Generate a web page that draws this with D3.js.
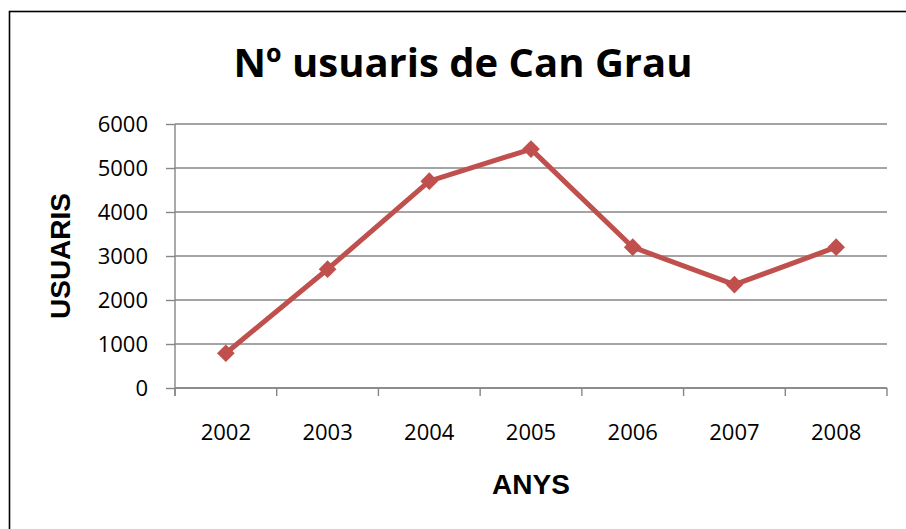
<!DOCTYPE html>
<html>
<head>
<meta charset="utf-8">
<script src="https://cdn.jsdelivr.net/npm/d3@7"></script>
<style>
	html, body { margin: 0; padding: 0; background: #fff; overflow: hidden; }
</style>
</head>
<body>
<script>
'use strict';

// chart data
const years = ["2002", "2003", "2004", "2005", "2006", "2007", "2008"];
const usuaris = [790, 2700, 4700, 5430, 3200, 2350, 3200];
const yTicks = [0, 1000, 2000, 3000, 4000, 5000, 6000];

const params = {
	width: 906,
	height: 529,
	left: 175,
	right: 887,
	top: 124,
	bottom: 388
};

const svg = d3.select("body")
	.append("svg")
	.attr("width", params.width)
	.attr("height", params.height);

// outer frame (runs off the right/bottom edge like the original)
svg.append("rect")
	.attr("x", 9.5)
	.attr("y", 11.5)
	.attr("width", 920)
	.attr("height", 540)
	.attr("fill", "#fff")
	.attr("stroke", "#000")
	.attr("stroke-width", 1.6);

const xScale = d3.scaleBand()
	.domain(years)
	.range([params.left, params.right])
	.padding(0);

const yScale = d3.scaleLinear()
	.domain([0, 6000])
	.range([params.bottom, params.top]);

const grey = "#868686";

// gridlines
svg.append("g")
	.selectAll("line")
	.data(yTicks)
	.join("line")
		.attr("x1", params.left)
		.attr("x2", params.right)
		.attr("y1", d => yScale(d))
		.attr("y2", d => yScale(d))
		.attr("stroke", grey)
		.attr("stroke-width", 1.4);

// y axis
const yAxis = svg.append("g")
	.attr("transform", `translate(${params.left},0)`)
	.call(d3.axisLeft(yScale).tickValues(yTicks).tickSize(9).tickPadding(18).tickFormat(d3.format("d")));
yAxis.select(".domain").attr("stroke", grey).attr("stroke-width", 1.4)
	.attr("d", `M0,${params.top}V${params.bottom + 8}`);
yAxis.selectAll(".tick line").attr("stroke", grey).attr("stroke-width", 1.4);
yAxis.selectAll(".tick text")
	.attr("font-family", "'Open Sans', sans-serif")
	.attr("font-size", 22)
	.attr("fill", "#000");

// x axis: ticks between categories
const xAxisG = svg.append("g")
	.attr("transform", `translate(0,${params.bottom})`);
xAxisG.append("line")
	.attr("x1", params.left).attr("x2", params.right)
	.attr("stroke", grey).attr("stroke-width", 1.4);
xAxisG.selectAll("line.tk")
	.data(years.concat(["end"]))
	.join("line")
		.attr("class", "tk")
		.attr("x1", d => d === "end" ? params.right : xScale(d))
		.attr("x2", d => d === "end" ? params.right : xScale(d))
		.attr("y1", 0).attr("y2", 8)
		.attr("stroke", grey).attr("stroke-width", 1.4);
xAxisG.selectAll("text")
	.data(years)
	.join("text")
		.attr("x", d => xScale(d) + xScale.bandwidth() / 2)
		.attr("y", 52)
		.attr("text-anchor", "middle")
		.attr("font-family", "'Open Sans', sans-serif")
		.attr("font-size", 22)
		.text(d => d);

// series line
const pts = years.map((y, i) => ({ year: y, value: usuaris[i] }));
const line = d3.line()
	.x(d => xScale(d.year) + xScale.bandwidth() / 2)
	.y(d => yScale(d.value));

svg.append("path")
	.datum(pts)
	.attr("d", line)
	.attr("fill", "none")
	.attr("stroke", "#C0504D")
	.attr("stroke-width", 5)
	.attr("stroke-linejoin", "round");

// diamond markers
svg.append("g")
	.selectAll("path")
	.data(pts)
	.join("path")
		.attr("d", d3.symbol().type(d3.symbolDiamond2).size(200))
		.attr("transform", d => `translate(${xScale(d.year) + xScale.bandwidth() / 2},${yScale(d.value)})`)
		.attr("fill", "#C0504D");

// titles
svg.append("text")
	.attr("x", 463)
	.attr("y", 77)
	.attr("text-anchor", "middle")
	.attr("font-family", "'Open Sans', sans-serif")
	.attr("font-weight", "bold")
	.attr("font-size", 40)
	.text("Nº usuaris de Can Grau");

svg.append("text")
	.attr("transform", "translate(70,256) rotate(-90)")
	.attr("text-anchor", "middle")
	.attr("font-family", "'Liberation Sans', Arial, sans-serif")
	.attr("font-weight", "bold")
	.attr("font-size", 28)
	.text("USUARIS");

svg.append("text")
	.attr("x", 531)
	.attr("y", 494)
	.attr("text-anchor", "middle")
	.attr("font-family", "'Liberation Sans', Arial, sans-serif")
	.attr("font-weight", "bold")
	.attr("font-size", 28)
	.text("ANYS");
</script>
</body>
</html>
